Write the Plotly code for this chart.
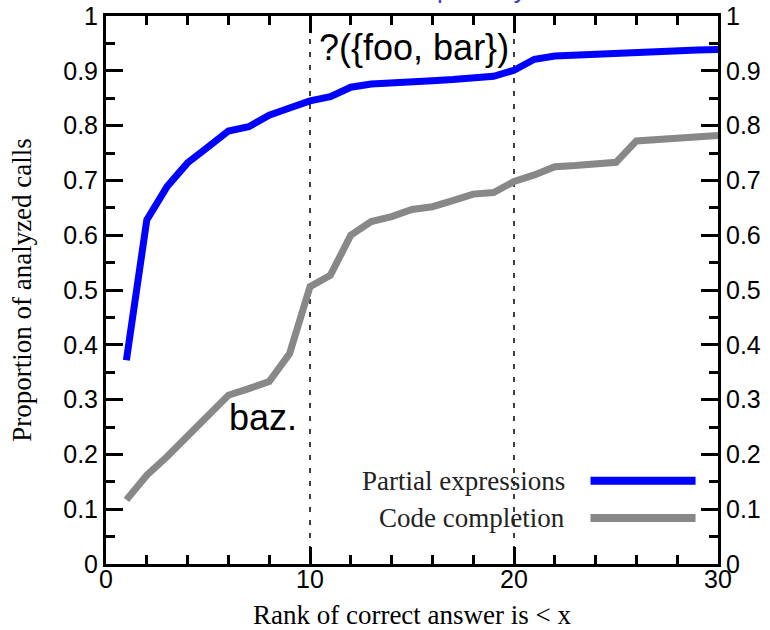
import plotly.graph_objects as go

rank = list(range(1, 31))
partial_expr = [0.372, 0.628, 0.689, 0.732, 0.761, 0.790, 0.798, 0.819, 0.832, 0.845,
                0.853, 0.870, 0.876, 0.879, 0.880, 0.882, 0.884, 0.887, 0.890, 0.901,
                0.921, 0.927, 0.929, 0.930, 0.931, 0.933, 0.934, 0.936, 0.938, 0.939]
code_compl = [0.117, 0.162, 0.196, 0.232, 0.272, 0.308, 0.320, 0.333, 0.384, 0.506,
              0.527, 0.600, 0.625, 0.634, 0.647, 0.652, 0.663, 0.675, 0.678, 0.698,
              0.710, 0.725, 0.727, 0.729, 0.733, 0.772, 0.774, 0.777, 0.781, 0.782]
series_names = ["Partial expressions", "Code completion"]
series_colors = ["#0000ff", "#888888"]
vlines = [10, 20]
x_ticks = [0, 10, 20, 30]
y_ticks = [0, 0.1, 0.2, 0.3, 0.4, 0.5, 0.6, 0.7, 0.8, 0.9, 1]
y_labels = ["0", "0.1", "0.2", "0.3", "0.4", "0.5", "0.6", "0.7", "0.8", "0.9", "1"]

SANS = "Liberation Sans, Arial, sans-serif"
SERIF = "Liberation Serif, Times New Roman, serif"

fig = go.Figure()
fig.add_trace(go.Scatter(x=rank, y=partial_expr, mode="lines", name=series_names[0],
                         line=dict(color=series_colors[0], width=7), showlegend=False))
fig.add_trace(go.Scatter(x=rank, y=code_compl, mode="lines", name=series_names[1],
                         line=dict(color=series_colors[1], width=7), showlegend=False,
                         yaxis="y2"))

for v in vlines:
    fig.add_shape(type="line", xref="x", yref="paper", x0=v, x1=v, y0=0, y1=1,
                  line=dict(color="black", width=1.5, dash="5px,8px"), layer="below")

# legend (text on the left, sample line on the right)
leg_y = [0.152, 0.084]
for name, col, yy in zip(series_names, series_colors, leg_y):
    fig.add_annotation(x=22.6, y=yy, xref="x", yref="y", text=name, showarrow=False,
                       xanchor="right", yanchor="middle",
                       font=dict(family=SERIF, size=27, color="#222222"))
    fig.add_shape(type="line", xref="x", yref="y", x0=23.75, x1=28.9, y0=yy, y1=yy,
                  line=dict(color=col, width=8))

fig.add_annotation(x=15.1, y=0.942, xref="x", yref="y", text="?({foo, bar})",
                   showarrow=False, xanchor="center", yanchor="middle",
                   font=dict(family=SANS, size=36, color="black"))
fig.add_annotation(x=7.7, y=0.268, xref="x", yref="y", text="baz.",
                   showarrow=False, xanchor="center", yanchor="middle",
                   font=dict(family=SANS, size=36, color="black"))
# partially visible title at the very top
fig.add_annotation(x=0.538, y=1.0, xref="paper", yref="paper", text="partially",
                   showarrow=False, xanchor="left", yanchor="bottom", yshift=10,
                   font=dict(family=SANS, size=26, color="#3c3cd0"))

axis_common = dict(ticks="inside", ticklen=17, tickwidth=2.5, tickcolor="black",
                   showgrid=False, zeroline=False, automargin=False,
                   tickfont=dict(family=SANS, size=25, color="black"))

fig.update_layout(
    width=770, height=630,
    margin=dict(l=106, r=52, t=16, b=66),
    plot_bgcolor="white", paper_bgcolor="white",
    xaxis=dict(range=[0, 30], tickvals=x_ticks, ticktext=[str(t) for t in x_ticks],
               showline=True, linewidth=3, linecolor="black", mirror="ticks",
               ticklabelstandoff=-9,
               minor=dict(ticks="inside", dtick=2, tick0=0, ticklen=9, tickwidth=2.5,
                          tickcolor="black", showgrid=False),
               title=dict(text="Rank of correct answer is < x", standoff=17,
                          font=dict(family=SERIF, size=27, color="black")),
               **axis_common),
    yaxis=dict(range=[0, 1], tickvals=y_ticks, ticktext=y_labels,
               showline=True, linewidth=3, linecolor="black", mirror=True,
               minor=dict(ticks="inside", dtick=0.05, tick0=0, ticklen=9, tickwidth=2.5,
                          tickcolor="black", showgrid=False),
               title=dict(text="Proportion of analyzed calls", standoff=24,
                          font=dict(family=SERIF, size=27, color="black")),
               **axis_common),
    yaxis2=dict(range=[0, 1], tickvals=y_ticks, ticktext=y_labels, overlaying="y",
                side="right", showline=False, ticklabelstandoff=7,
                minor=dict(ticks="inside", dtick=0.05, tick0=0, ticklen=9, tickwidth=2.5,
                           tickcolor="black", showgrid=False),
                **axis_common),
)

fig.write_html("out.html")
